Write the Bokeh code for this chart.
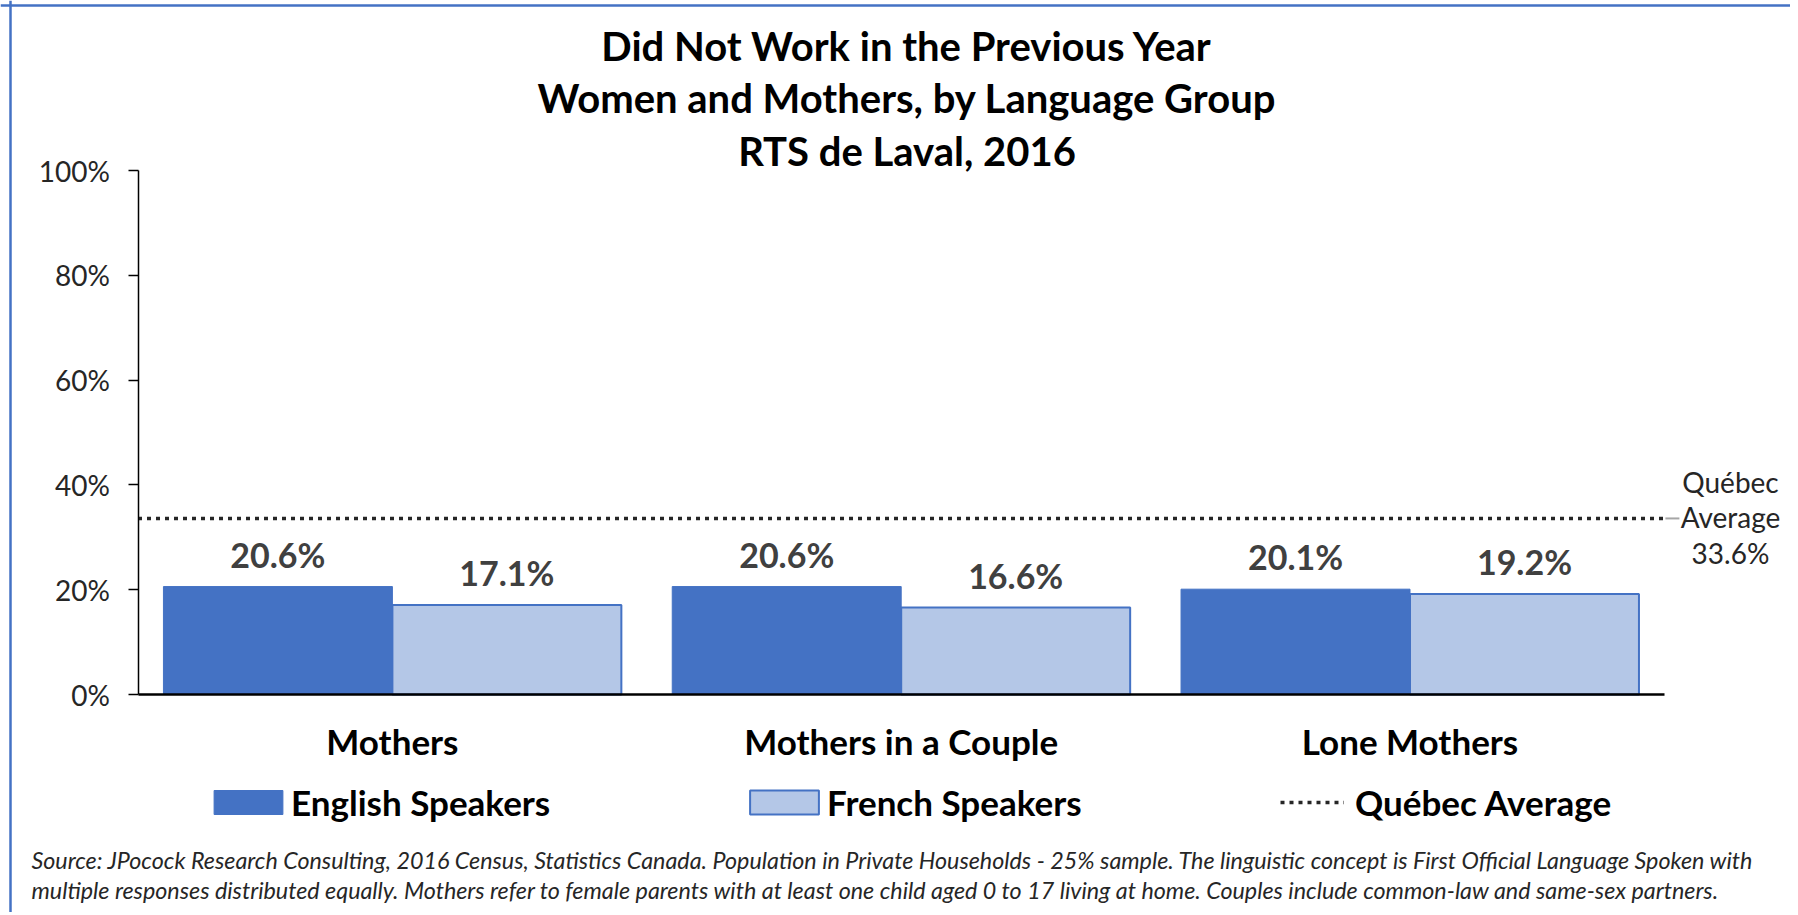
from bokeh.plotting import figure
from bokeh.models import (ColumnDataSource, Range1d, LabelSet, Label, Legend, LegendItem,
                          FixedTicker, NumeralTickFormatter, Span)
from bokeh.core.properties import value
from bokeh.transform import dodge
from bokeh.embed import file_html
from bokeh.resources import INLINE

# ---- data ----
categories = ["Mothers", "Mothers in a Couple", "Lone Mothers"]
english = [0.206, 0.206, 0.201]
french = [0.171, 0.166, 0.192]
english_labels = ["20.6%", "20.6%", "20.1%"]
french_labels = ["17.1%", "16.6%", "19.2%"]
quebec_avg = 0.336
quebec_label = ["Québec", "Average", "33.6%"]
series_names = ["English Speakers", "French Speakers", "Québec Average"]
y_ticks = [0, 0.2, 0.4, 0.6, 0.8, 1.0]
title_lines = ["Did Not Work in the Previous Year",
               "Women and Mothers, by Language Group",
               "RTS de Laval, 2016"]
source_lines = [
    "Source: JPocock Research Consulting, 2016 Census, Statistics Canada. Population in Private Households - 25% sample. The linguistic concept is First Official Language Spoken with",
    "multiple responses distributed equally. Mothers refer to female parents with at least one child aged 0 to 17 living at home. Couples include common-law and same-sex partners.",
]

# ---- style / layout ----
FONT = "Lato"
BLUE = "#4472C4"
LIGHT = "#B4C7E7"
DARK = "#404040"

W, H = 1790, 912
X0_PX, PPX = 137.5, 508.8   # canvas px of x=0, px per category
Y0_PX, PPY = 694.0, 524.0   # canvas px of y=0, px per 100%


def dx(px):
    return (px - X0_PX) / PPX


def dy(py):
    return (Y0_PX - py) / PPY


n = len(categories)
xc = [i + 0.5 for i in range(n)]
src = ColumnDataSource(dict(xc=xc, en=english, fr=french,
                            en_lab=english_labels, fr_lab=french_labels))

p = figure(width=W, height=H, x_range=Range1d(dx(0), dx(W)), y_range=Range1d(dy(H), dy(0)),
           output_backend="svg", toolbar_location=None, min_border=0,
           background_fill_color="white", border_fill_color="white")
p.outline_line_color = None
p.grid.visible = False

r_en = p.vbar(x=dodge("xc", -0.225), top="en", width=0.45, source=src,
              fill_color=BLUE, line_color=BLUE, line_width=1)
r_fr = p.vbar(x=dodge("xc", 0.225), top="fr", width=0.45, source=src,
              fill_color=LIGHT, line_color=BLUE, line_width=2)
r_avg = p.line(x=[0, n], y=[quebec_avg, quebec_avg], line_color="#262626",
               line_width=3.5, line_dash="4 5")
# leader from the average line to its label
p.segment(x0=[n + 1 / PPX], x1=[n + 15 / PPX], y0=[quebec_avg], y1=[quebec_avg],
          line_color="#A6A6A6", line_width=2)

lab_style = dict(text_font=value(FONT), text_font_style="bold", text_font_size="34px",
                 text_color=DARK, text_align="center", text_baseline="alphabetic", y_offset=19)
p.add_layout(LabelSet(x=dodge("xc", -0.225), y="en", text="en_lab", source=src, **lab_style))
p.add_layout(LabelSet(x=dodge("xc", 0.225), y="fr", text="fr_lab", source=src, **lab_style))

# ---- axes ----
p.yaxis.fixed_location = 0
p.yaxis.bounds = (0, 1)
p.yaxis.ticker = FixedTicker(ticks=y_ticks)
p.yaxis.formatter = NumeralTickFormatter(format="0%")
p.yaxis.major_label_text_font = FONT
p.yaxis.major_label_text_font_size = "28px"
p.yaxis.major_label_text_color = "#262626"
p.yaxis.major_tick_out = 10
p.yaxis.major_tick_in = 0
p.yaxis.minor_tick_out = 0
p.yaxis.minor_tick_in = 0
p.yaxis.major_label_standoff = 18
p.yaxis.axis_line_color = "black"
p.yaxis.axis_line_width = 1.5
p.yaxis.major_tick_line_color = "black"
p.yaxis.major_tick_line_width = 1.5

p.xaxis.fixed_location = 0
p.xaxis.bounds = (0, n)
p.xaxis.ticker = FixedTicker(ticks=xc)
p.xaxis.major_label_overrides = {x: c for x, c in zip(xc, categories)}
p.xaxis.major_label_text_font = FONT
p.xaxis.major_label_text_font_style = "bold"
p.xaxis.major_label_text_font_size = "35px"
p.xaxis.major_label_text_color = "black"
p.xaxis.major_tick_out = 0
p.xaxis.major_tick_in = 0
p.xaxis.minor_tick_out = 0
p.xaxis.minor_tick_in = 0
p.xaxis.major_label_standoff = 25
p.xaxis.axis_line_color = "black"
p.xaxis.axis_line_width = 2.5

# ---- chart border (top and left) ----
p.add_layout(Span(location=dy(5), dimension="width", line_color=BLUE, line_width=2.5))
p.add_layout(Span(location=dx(10), dimension="height", line_color=BLUE, line_width=2.5))

# ---- title ----
for t, cy in zip(title_lines, [45, 97, 150]):
    p.add_layout(Label(x=dx(906.5), y=dy(cy), text=t, text_font=FONT,
                       text_font_style="bold", text_font_size="40px", text_color="black",
                       text_align="center", text_baseline="middle"))

# ---- Québec average label at right ----
for t, cy in zip(quebec_label, [481, 516, 552]):
    p.add_layout(Label(x=dx(1730), y=dy(cy), text=t, text_font=FONT,
                       text_font_size="28px", text_color="#262626",
                       text_align="center", text_baseline="middle"))

# ---- source note ----
for t, cy in zip(source_lines, [859.5, 889.5]):
    p.add_layout(Label(x=dx(31), y=dy(cy), text=t, text_font=FONT,
                       text_font_style="italic", text_font_size="23.3px",
                       text_color="#262626", text_align="left", text_baseline="middle"))

# ---- legend: three entries placed in one row ----
# (x position, glyph width, glyph height, standoff) per entry
legend_layout = [(205, 86, 30, 0), (741, 86, 30, 0), (1280, 64, 24, 11)]
for name, rend, (lx, gw, gh, so) in zip(series_names, [r_en, r_fr, r_avg], legend_layout):
    lg = Legend(items=[LegendItem(label=name, renderers=[rend])],
                location=(lx, H - 823), orientation="horizontal",
                glyph_width=gw, glyph_height=gh, label_height=24, label_standoff=so,
                padding=0, margin=0, spacing=0,
                label_text_font=FONT, label_text_font_style="bold",
                label_text_font_size="35px", label_text_color="black",
                label_text_baseline="alphabetic",
                border_line_color=None, background_fill_alpha=0)
    p.add_layout(lg, "center")

open("out.html", "w").write(file_html(p, INLINE))
